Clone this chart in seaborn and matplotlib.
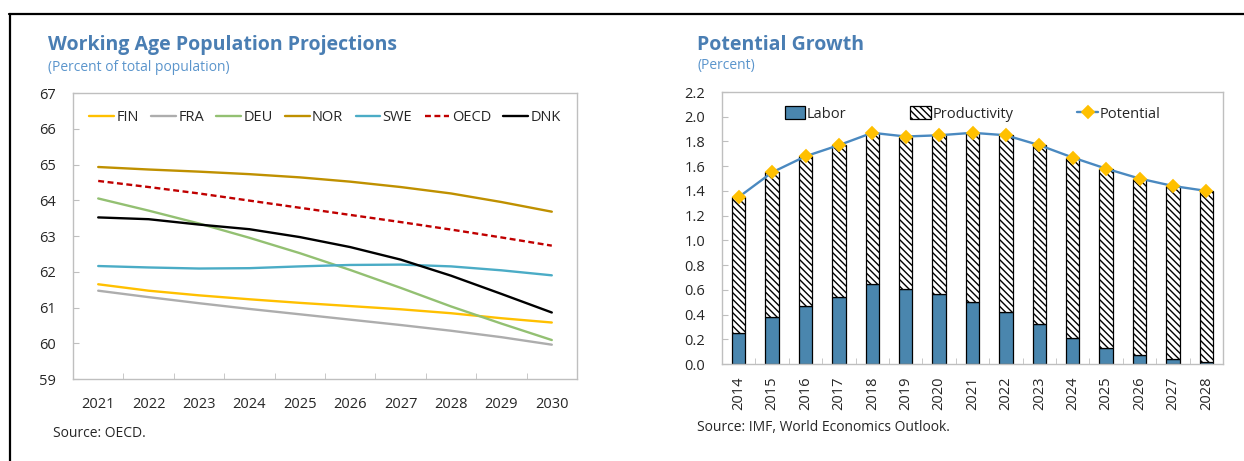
"""
Two-panel chart: working age population projections and potential growth.
"""

import numpy as np
import pandas as pd
import matplotlib.pyplot as plt
from matplotlib.lines import Line2D
from matplotlib.ticker import FixedLocator, FormatStrFormatter
import seaborn as sns

# ---- Left panel data (percent of total population) ----
pop_years = [2021, 2022, 2023, 2024, 2025, 2026, 2027, 2028, 2029, 2030]
fin = [61.65, 61.47, 61.34, 61.23, 61.13, 61.04, 60.95, 60.84, 60.70, 60.58]
fra = [61.47, 61.29, 61.12, 60.96, 60.81, 60.66, 60.51, 60.35, 60.17, 59.96]
deu = [64.05, 63.71, 63.35, 62.95, 62.52, 62.05, 61.55, 61.03, 60.55, 60.09]
nor = [64.93, 64.86, 64.80, 64.73, 64.64, 64.52, 64.37, 64.19, 63.95, 63.68]
swe = [62.16, 62.12, 62.09, 62.10, 62.15, 62.19, 62.20, 62.15, 62.04, 61.90]
oecd = [64.54, 64.37, 64.19, 63.99, 63.79, 63.59, 63.39, 63.18, 62.96, 62.73]
dnk = [63.52, 63.47, 63.32, 63.19, 62.97, 62.69, 62.34, 61.89, 61.38, 60.86]
countries = ["FIN", "FRA", "DEU", "NOR", "SWE", "OECD", "DNK"]
pop_ticks = [59, 60, 61, 62, 63, 64, 65, 66, 67]

# ---- Right panel data (percent) ----
growth_years = ["2014", "2015", "2016", "2017", "2018", "2019", "2020", "2021",
                "2022", "2023", "2024", "2025", "2026", "2027", "2028"]
labor = [0.25, 0.38, 0.47, 0.54, 0.65, 0.61, 0.57, 0.50,
         0.42, 0.32, 0.21, 0.13, 0.07, 0.04, 0.02]
productivity = [1.10, 1.17, 1.21, 1.23, 1.22, 1.23, 1.28, 1.37,
                1.43, 1.45, 1.46, 1.45, 1.43, 1.40, 1.38]
potential = [1.35, 1.55, 1.68, 1.77, 1.87, 1.84, 1.85, 1.87,
             1.85, 1.77, 1.67, 1.58, 1.50, 1.44, 1.40]
growth_ticks = [0.0, 0.2, 0.4, 0.6, 0.8, 1.0, 1.2, 1.4, 1.6, 1.8, 2.0, 2.2]
growth_series = ["Labor", "Productivity", "Potential"]

line_colors = {
    "FIN": "#FFC000", "FRA": "#ADADAD", "DEU": "#93C072", "NOR": "#BF9000",
    "SWE": "#4BACC6", "OECD": "#C00000", "DNK": "#000000",
}
TITLE_BLUE = "#4A7EB3"
SUB_BLUE = "#5B95CC"
SPINE_GRAY = "#BFBFBF"

sns.set_style("white")
plt.rcParams["font.family"] = ["Open Sans", "DejaVu Sans"]
plt.rcParams["font.size"] = 10


def style_axes(ax):
    for side in ["left", "right", "top", "bottom"]:
        ax.spines[side].set_visible(True)
        ax.spines[side].set_color(SPINE_GRAY)
        ax.spines[side].set_linewidth(1.0)
    ax.tick_params(axis="y", which="major", direction="in", length=4,
                   color=SPINE_GRAY, labelsize=10.5, left=True)
    ax.tick_params(axis="x", which="major", length=0, labelsize=10.5)
    ax.tick_params(axis="x", which="minor", direction="in", length=4,
                   color=SPINE_GRAY, bottom=True)


def plot_population(ax):
    """Line chart of working age population shares."""
    series = [fin, fra, deu, nor, swe, oecd, dnk]
    df = pd.DataFrame({
        "year": np.tile(pop_years, len(countries)),
        "value": np.concatenate(series),
        "country": np.repeat(countries, len(pop_years)),
    })
    dashes = {c: "" for c in countries}
    dashes["OECD"] = (2.5, 1.5)

    sns.lineplot(data=df, x="year", y="value", hue="country", style="country",
                 hue_order=countries, style_order=countries,
                 palette=line_colors, dashes=dashes, linewidth=1.7, ax=ax)

    ax.set_xlim(pop_years[0] - 0.5, pop_years[-1] + 0.5)
    ax.set_ylim(pop_ticks[0], pop_ticks[-1])
    ax.set_xticks(pop_years)
    ax.xaxis.set_minor_locator(FixedLocator(np.array(pop_years[:-1]) + 0.5))
    ax.set_yticks(pop_ticks)
    ax.set_xlabel("")
    ax.set_ylabel("")
    style_axes(ax)
    ax.tick_params(axis="y", pad=12)
    ax.tick_params(axis="x", which="major", pad=13)

    sns.move_legend(ax, "upper center", bbox_to_anchor=(0.5, 0.985), ncol=7,
                    frameon=False, title=None, fontsize=10.5, handlelength=1.7,
                    handletextpad=0.15, columnspacing=0.85)


def plot_growth(ax):
    """Stacked bars of labor and productivity with potential growth line."""
    df = pd.DataFrame({
        "year": growth_years,
        "labor": labor,
        "productivity": productivity,
        "potential": potential,
    })

    sns.barplot(data=df, x="year", y="labor", color="#4A86AE", saturation=1,
                edgecolor="black", linewidth=0.9, width=0.4, errorbar=None,
                label="Labor", ax=ax)
    sns.barplot(data=df, x="year", y="productivity", bottom=df["labor"].to_numpy(),
                color="white", saturation=1, edgecolor="black", linewidth=0.9,
                hatch="\\\\\\\\\\", width=0.4, errorbar=None,
                label="Productivity", ax=ax)
    sns.pointplot(data=df, x="year", y="potential", color="#4A89C0",
                  markers="D", linestyles="-", errorbar=None, markersize=6.5,
                  linewidth=1.7, label="Potential", ax=ax)
    for line in ax.lines:
        line.set_markerfacecolor("#FFC000")
        line.set_markeredgecolor("#FFC000")

    ax.set_xlim(-0.5, len(growth_years) - 0.5)
    ax.set_ylim(growth_ticks[0], growth_ticks[-1])
    ax.set_yticks(growth_ticks)
    ax.yaxis.set_major_formatter(FormatStrFormatter("%.1f"))
    ax.xaxis.set_minor_locator(FixedLocator(np.arange(len(growth_years) - 1) + 0.5))
    ax.set_xlabel("")
    ax.set_ylabel("")
    style_axes(ax)
    ax.tick_params(axis="y", pad=12)
    ax.tick_params(axis="x", which="major", rotation=90, pad=9)

    handles, labels = ax.get_legend_handles_labels()
    lookup = dict(zip(labels, handles))
    ax.legend([lookup[s] for s in growth_series], growth_series,
              loc="upper center", bbox_to_anchor=(0.5, 0.995),
              ncol=3, frameon=False, fontsize=10.5, handlelength=1.4,
              handleheight=0.9, handletextpad=0.1, columnspacing=4.4)


fig = plt.figure(figsize=(12.44, 4.61), dpi=100)
W, H = 1244, 461

ax1 = fig.add_axes([73 / W, 1 - 379 / H, (577 - 73) / W, (379 - 93) / H])
ax2 = fig.add_axes([722 / W, 1 - 364 / H, (1223 - 722) / W, (364 - 92) / H])
plot_population(ax1)
plot_growth(ax2)

# titles, subtitles, sources
fig.text(48 / W, 1 - 50 / H, "Working Age Population Projections", fontsize=14,
         fontweight="bold", color=TITLE_BLUE, va="baseline")
fig.text(48 / W, 1 - 71 / H, "(Percent of total population)", fontsize=10,
         color=SUB_BLUE, va="baseline")
fig.text(697 / W, 1 - 50 / H, "Potential Growth", fontsize=14,
         fontweight="bold", color=TITLE_BLUE, va="baseline")
fig.text(697 / W, 1 - 69 / H, "(Percent)", fontsize=10,
         color=SUB_BLUE, va="baseline")
fig.text(53 / W, 1 - 437 / H, "Source: OECD.", fontsize=10, va="baseline")
fig.text(697 / W, 1 - 431 / H, "Source: IMF, World Economics Outlook.",
         fontsize=10, va="baseline")

# black frame lines at the top and left edge
fig.add_artist(Line2D([9 / W, 1], [1 - 14 / H, 1 - 14 / H], color="black",
                      lw=1.6, transform=fig.transFigure))
fig.add_artist(Line2D([10 / W, 10 / W], [0, 1 - 14 / H], color="black",
                      lw=1.6, transform=fig.transFigure))

fig.savefig("out.png", dpi=100)
